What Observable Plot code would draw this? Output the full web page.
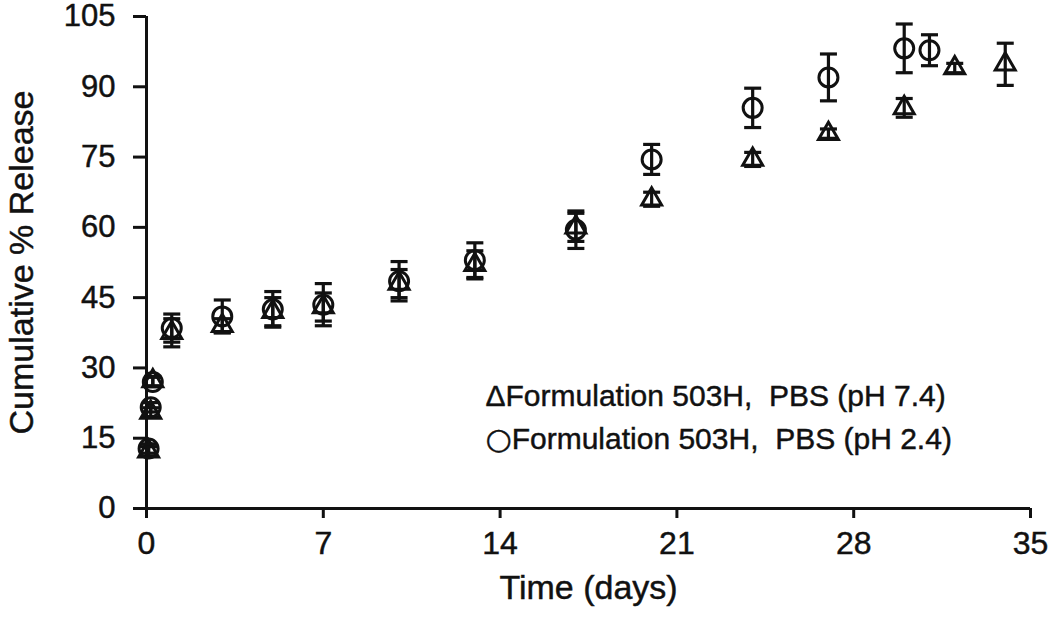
<!DOCTYPE html>
<html><head><meta charset="utf-8">
<script src="https://cdn.jsdelivr.net/npm/d3@7"></script>
<script src="https://cdn.jsdelivr.net/npm/@observablehq/plot@0.6"></script>
<style>
body{margin:0;background:#fff}
#chart svg{font-family:"Liberation Sans",Arial,sans-serif;color:#111;background:#fff;overflow:visible}
#chart svg text{stroke:#111;stroke-width:0.45px}
</style>
</head><body><div id="chart"></div>
<script>
const xTicks = [0, 7, 14, 21, 28, 35];
const yTicks = [0, 15, 30, 45, 60, 75, 90, 105];

// Formulation 503H, PBS (pH 7.4) — triangles
const daysPH74 = [0.083, 0.167, 0.25, 1, 3, 5, 7, 10, 13, 17, 20, 24, 27, 30, 32, 34];
const relPH74  = [12.2, 20.5, 27.2, 37.5, 39.0, 42.0, 43.0, 48.0, 52.0, 60.0, 66.0, 74.5, 80.0, 85.5, 94.0, 94.8];
const sdPH74   = [1, 1, 1, 3, 1.5, 3, 3, 3, 3, 3, 1.5, 1.5, 1, 2, 1, 4.5];

// Formulation 503H, PBS (pH 2.4) — circles
const daysPH24 = [0.083, 0.167, 0.25, 1, 3, 5, 7, 10, 13, 17, 20, 24, 27, 30, 31];
const relPH24  = [12.8, 21.6, 27.0, 38.5, 41.0, 42.5, 43.5, 48.5, 53.0, 59.5, 74.5, 85.5, 92.0, 98.2, 97.8];
const sdPH24   = [1, 1, 1, 3, 3.5, 3.8, 4.5, 4.2, 3.7, 4, 3.2, 4.2, 5, 5.2, 3.3];

const legendLabels = ["\u0394Formulation 503H,\u00a0 PBS (pH 7.4)", "\u25CBFormulation 503H,\u00a0 PBS (pH 2.4)"];
const xTitle = "Time (days)";
const yTitle = "Cumulative % Release";

const rows = (days, rel, sd) => days.map((t, i) => ({t, v: rel[i], lo: rel[i] - sd[i], hi: rel[i] + sd[i]}));
const d74 = rows(daysPH74, relPH74, sdPH74);
const d24 = rows(daysPH24, relPH24, sdPH24);

const cap = {draw(ctx, size) { const w = Math.sqrt(size); ctx.moveTo(-w, 0); ctx.lineTo(w, 0); }};
const ink = "#111";

function bars(data) {
  return [
    Plot.ruleX(data, {x: "t", y1: "lo", y2: "hi", stroke: ink, strokeWidth: 3.2}),
    Plot.dot(data, {x: "t", y: "hi", symbol: cap, r: 4.8, stroke: ink, fill: "none", strokeWidth: 3.2}),
    Plot.dot(data, {x: "t", y: "lo", symbol: cap, r: 4.8, stroke: ink, fill: "none", strokeWidth: 3.2})
  ];
}

const chart = Plot.plot({
  width: 1050,
  height: 622,
  marginLeft: 146,
  marginRight: 20,
  marginTop: 16,
  marginBottom: 114,
  style: {background: "#fff", color: ink},
  x: {domain: [0, 35], label: null},
  y: {domain: [0, 105], label: null},
  marks: [
    Plot.axisY({ticks: yTicks, tickSize: 13, tickPadding: 18, fontSize: 31, strokeWidth: 3, label: null}),
    Plot.axisX({ticks: xTicks, tickSize: 10, tickPadding: 13, fontSize: 32, strokeWidth: 3, label: null}),
    Plot.ruleX([0], {stroke: ink, strokeWidth: 3}),
    Plot.ruleY([0], {stroke: ink, strokeWidth: 3}),
    ...bars(d74),
    Plot.dot(d74, {x: "t", y: "v", symbol: "triangle", r: 7.4, stroke: ink, fill: "none", strokeWidth: 3}),
    ...bars(d24),
    Plot.dot(d24, {x: "t", y: "v", symbol: "circle", r: 9.5, stroke: ink, fill: "none", strokeWidth: 3}),
    Plot.text([legendLabels[0]], {text: d => d, frameAnchor: "top-left", dx: 339, dy: 380, textAnchor: "start", lineAnchor: "middle", fontSize: 30, fill: ink}),
    Plot.text([legendLabels[1]], {text: d => d, frameAnchor: "top-left", dx: 339, dy: 423, textAnchor: "start", lineAnchor: "middle", fontSize: 30, fill: ink}),
    Plot.text([yTitle], {text: d => d, frameAnchor: "left", dx: -124, rotate: -90, textAnchor: "middle", fontSize: 34, fill: ink}),
    Plot.text([xTitle], {text: d => d, frameAnchor: "bottom", dy: 90, textAnchor: "middle", fontSize: 34, fill: ink})
  ]
});
document.getElementById("chart").append(chart);

// draw the legend's circle glyph at about cap height, as in the reference
d3.select(chart).selectAll("text").each(function() {
  const t = this.textContent;
  if (t.startsWith("\u25CB")) {
    const el = d3.select(this);
    el.text(null);
    el.append("tspan").attr("font-size", 30).attr("font-family", "DejaVu Sans").attr("font-weight", "bold").text("\u25CB");
    el.append("tspan").attr("font-size", 30).text(t.slice(1));
  }
});
</script>
</body></html>
